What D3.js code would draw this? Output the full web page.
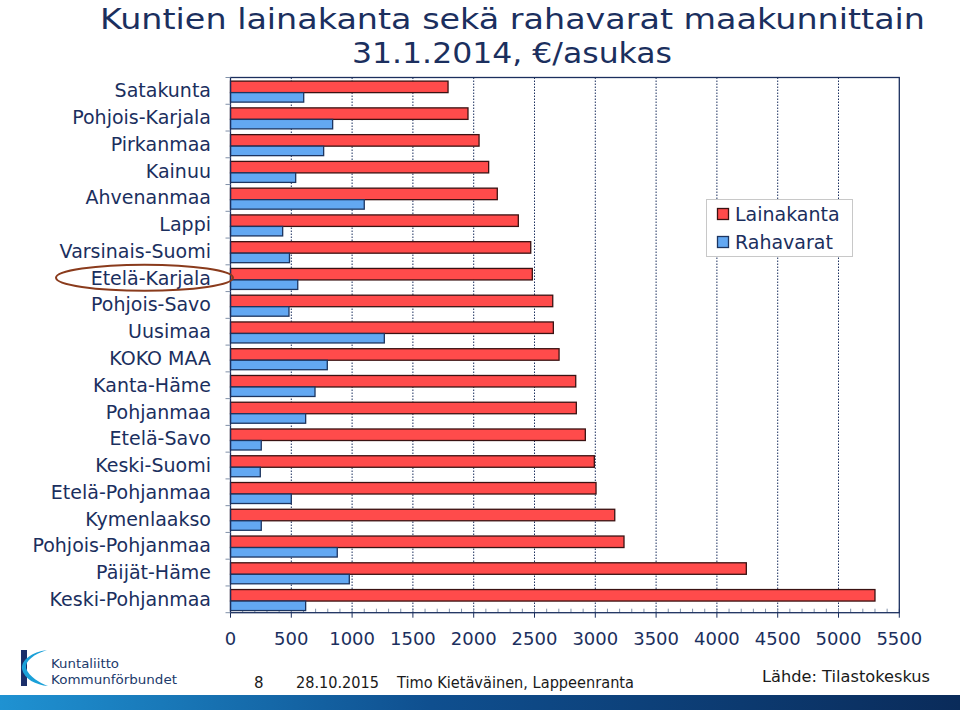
<!DOCTYPE html>
<html><head><meta charset="utf-8">
<script src="https://cdn.jsdelivr.net/npm/d3@7"></script>
<style>body{margin:0;background:#fff}svg{display:block}</style>
</head><body>
<script>
const categories = ["Satakunta","Pohjois-Karjala","Pirkanmaa","Kainuu","Ahvenanmaa","Lappi","Varsinais-Suomi","Etelä-Karjala","Pohjois-Savo","Uusimaa","KOKO MAA","Kanta-Häme","Pohjanmaa","Etelä-Savo","Keski-Suomi","Etelä-Pohjanmaa","Kymenlaakso","Pohjois-Pohjanmaa","Päijät-Häme","Keski-Pohjanmaa"];
const lainakanta = [1789,1953,2044,2123,2194,2367,2469,2482,2650,2655,2702,2839,2844,2918,2992,3006,3160,3236,4242,5300];
const rahavarat = [602,840,766,536,1100,429,485,553,481,1265,796,695,618,253,245,500,253,878,977,618];
const seriesNames = ["Lainakanta","Rahavarat"];
const xTicks = [0,500,1000,1500,2000,2500,3000,3500,4000,4500,5000,5500];
const titleLines = ["Kuntien lainakanta sekä rahavarat maakunnittain","31.1.2014, €/asukas"];
const highlighted = "Etelä-Karjala";

const W=960,H=710;
const navy="#1b2f5e", redF="#ff4b4b", redS="#3a1212", blueF="#63a8f2", blueS="#1d3560";
const svg=d3.select("body").append("svg").attr("width",W).attr("height",H);
const defs=svg.append("defs");
const grad=defs.append("linearGradient").attr("id","band").attr("x1","0").attr("x2","1");
grad.append("stop").attr("offset","0").attr("stop-color","#1f92d2");
grad.append("stop").attr("offset","0.45").attr("stop-color","#0f4f8f");
grad.append("stop").attr("offset","1").attr("stop-color","#0a2b5a");

const L=230.5,R=899.3,T=77.5,B=612.7;
const x=d3.scaleLinear().domain([0,5500]).range([L,R]);
const y=d3.scaleBand().domain(categories).range([T,B]).padding(0);
const bw=y.bandwidth();

// title
const tt=svg.append("g").attr("fill",navy).attr("font-family","'DejaVu Sans',sans-serif").attr("font-size",29).attr("text-anchor","middle");
tt.append("text").attr("x",512.5).attr("y",29).attr("textLength",825).attr("lengthAdjust","spacingAndGlyphs").text(titleLines[0]);
tt.append("text").attr("x",512).attr("y",63).attr("textLength",320).attr("lengthAdjust","spacingAndGlyphs").text(titleLines[1]);

// gridlines
const grid=svg.append("g");
grid.selectAll("line").data(xTicks.filter(d=>d>0&&d<5500)).join("line")
 .attr("x1",d=>x(d)).attr("x2",d=>x(d)).attr("y1",T).attr("y2",B)
 .attr("stroke",navy).attr("stroke-width",1).attr("stroke-dasharray","1.5,1.5");

// minor ticks
const minor=d3.range(0,5501,100);
svg.append("g").selectAll("line").data(minor).join("line")
 .attr("x1",d=>x(d)).attr("x2",d=>x(d)).attr("y1",B).attr("y2",B-4)
 .attr("stroke","#8090a8").attr("stroke-width",1);

// bars
const rows=categories.map((c,i)=>({c,l:lainakanta[i],r:rahavarat[i]}));
const g=svg.append("g");
g.selectAll("rect.l").data(rows).join("rect").attr("class","l")
 .attr("x",x(0)).attr("y",d=>y(d.c)+bw*0.135).attr("width",d=>x(d.l)-x(0)).attr("height",bw*0.43)
 .attr("fill",redF).attr("stroke",redS).attr("stroke-width",1.3);
g.selectAll("rect.r").data(rows).join("rect").attr("class","r")
 .attr("x",x(0)).attr("y",d=>y(d.c)+bw*0.565).attr("width",d=>x(d.r)-x(0)).attr("height",bw*0.355)
 .attr("fill",blueF).attr("stroke",blueS).attr("stroke-width",1.3);

// frame
svg.append("rect").attr("x",L).attr("y",T).attr("width",R-L).attr("height",B-T)
 .attr("fill","none").attr("stroke",navy).attr("stroke-width",1.3);

// left ticks
svg.append("g").selectAll("line").data(categories.map(c=>y(c)).concat([B])).join("line")
 .attr("x1",L-5).attr("x2",L).attr("y1",d=>d).attr("y2",d=>d).attr("stroke","#8090a8");
// bottom major ticks
svg.append("g").selectAll("line").data(xTicks).join("line")
 .attr("x1",d=>x(d)).attr("x2",d=>x(d)).attr("y1",B).attr("y2",B+5).attr("stroke",navy);

// category labels
svg.append("g").attr("fill",navy).attr("font-family","'DejaVu Sans',Verdana,sans-serif").attr("font-size",19).attr("text-anchor","end")
 .selectAll("text").data(categories).join("text")
 .attr("x",211).attr("y",d=>y(d)+bw/2+6.5).text(d=>d);

// x labels
svg.append("g").attr("fill",navy).attr("font-family","'DejaVu Sans',Verdana,sans-serif").attr("font-size",18).attr("text-anchor","middle")
 .selectAll("text").data(xTicks).join("text")
 .attr("x",d=>x(d)).attr("y",645).text(d=>d);

// highlight ellipse
svg.append("ellipse").attr("cx",144.5).attr("cy",y(highlighted)+bw/2-0.5).attr("rx",88.5).attr("ry",13)
 .attr("fill","none").attr("stroke","#8a3b1c").attr("stroke-width",2);

// legend
const lg=svg.append("g");
lg.append("rect").attr("x",706.5).attr("y",199.5).attr("width",146).attr("height",57).attr("fill","#fff").attr("stroke","#c8c8c8");
const colors=[[redF,redS],[blueF,blueS]];
seriesNames.forEach((n,i)=>{
 lg.append("rect").attr("x",717.5).attr("y",208.5+i*28).attr("width",11).attr("height",11).attr("fill",colors[i][0]).attr("stroke",colors[i][1]).attr("stroke-width",1.3);
 lg.append("text").attr("x",735).attr("y",220.5+i*28).attr("fill",navy).attr("font-family","'DejaVu Sans',Verdana,sans-serif").attr("font-size",19).text(n);
});

// logo
const lo=svg.append("g");
lo.append("rect").attr("x",21).attr("y",650).attr("width",6).attr("height",36).attr("fill","#1b2f6a");
lo.append("path").attr("d","M47,650 C34,654 25,661 26,668 C29,677 40,683 48,686 C36,685 24,679 22,669 C21,660 32,652 47,650 Z").attr("fill","#1aa0d8");
lo.append("text").attr("x",51).attr("y",668).attr("fill","#1b3a6b").attr("font-family","'DejaVu Sans',sans-serif").attr("font-size",13).attr("textLength",68).attr("lengthAdjust","spacingAndGlyphs").text("Kuntaliitto");
lo.append("text").attr("x",51).attr("y",684).attr("fill","#1b3a6b").attr("font-family","'DejaVu Sans',sans-serif").attr("font-size",13).attr("textLength",126).attr("lengthAdjust","spacingAndGlyphs").text("Kommunförbundet");

// footer
const ft=svg.append("g").attr("fill","#1a1a1a").attr("font-family","'DejaVu Sans',sans-serif").attr("font-size",15);
ft.append("text").attr("x",254).attr("y",688).text("8");
ft.append("text").attr("x",296).attr("y",688).attr("textLength",83).attr("lengthAdjust","spacingAndGlyphs").text("28.10.2015");
ft.append("text").attr("x",397).attr("y",688).attr("textLength",237).attr("lengthAdjust","spacingAndGlyphs").text("Timo Kietäväinen, Lappeenranta");
ft.append("text").attr("x",762).attr("y",682).attr("textLength",168).attr("lengthAdjust","spacingAndGlyphs").text("Lähde: Tilastokeskus");

svg.append("rect").attr("x",0).attr("y",695).attr("width",W).attr("height",15).attr("fill","url(#band)");
</script>
</body></html>
